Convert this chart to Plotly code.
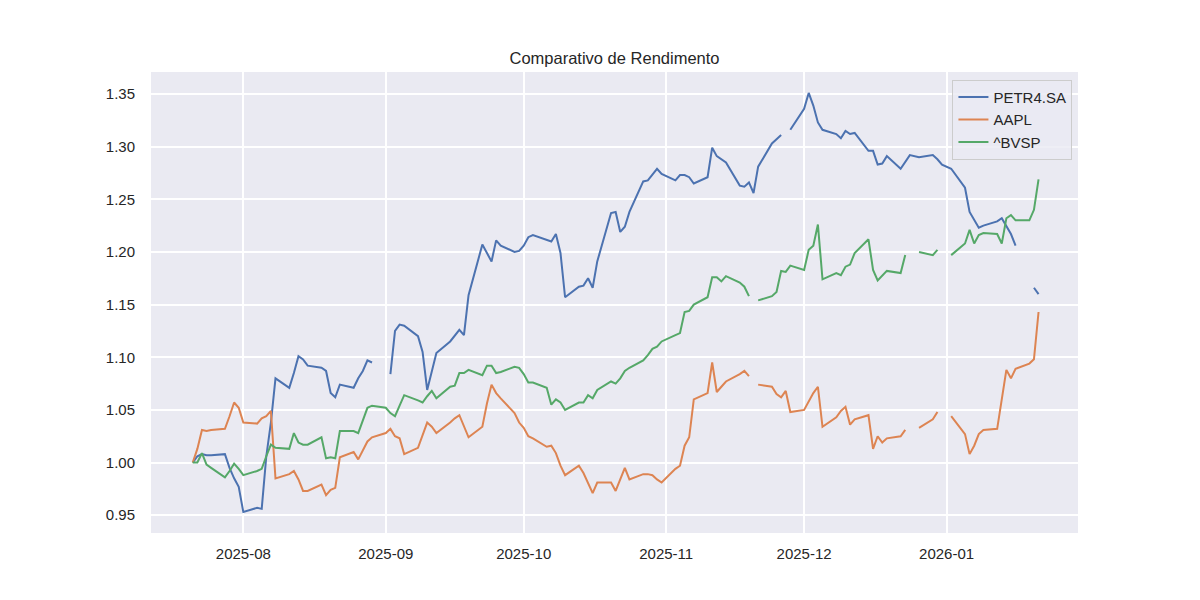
import pandas as pd
import plotly.graph_objects as go

# Trading calendar (weekdays, minus days no market traded at all)
closed_days = ['2025-12-25', '2026-01-01']
dates = pd.bdate_range('2025-07-21', '2026-01-21').drop(pd.to_datetime(closed_days))

# Normalised closes (first day = 1.0), None where that market was closed
petr4 = [1.000, 1.006, 1.008, 1.007, 1.007,
         1.008, 0.995, 0.985, 0.977, 0.953,
         0.957, 0.956, 1.006, 1.038, 1.080,
         1.071, 1.085, 1.101, 1.098, 1.092,
         1.090, 1.087, 1.066, 1.062, 1.074,
         1.071, 1.080, 1.087, 1.097, 1.095,
         None, 1.084, 1.125, 1.131, 1.130,
         1.120, 1.105, 1.069, 1.087, 1.104,
         1.115, 1.120, 1.126, 1.121, 1.159,
         1.207, 1.199, 1.191, 1.211, 1.206,
         1.200, 1.201, 1.206, 1.214, 1.216,
         1.212, 1.210, 1.217, 1.199, 1.157,
         1.167, 1.168, 1.175, 1.166, 1.191,
         1.237, 1.238, 1.219, 1.224, 1.238,
         1.267, 1.268, 1.273, 1.279, 1.274,
         1.268, 1.273, 1.273, 1.271, 1.265,
         1.271, 1.299, 1.291, 1.288, 1.285,
         1.263, 1.262, 1.266, 1.256, 1.281,
         1.303, 1.307, 1.311, None, 1.316,
         1.336, 1.351, 1.339, 1.323, 1.316,
         1.312, 1.308, 1.315, 1.312, 1.313,
         1.296, 1.296, 1.283, 1.284, 1.291,
         1.279, 1.285, 1.292, 1.290,
         1.292, 1.288, 1.283, 1.279,
         1.261, 1.238, 1.230, 1.223, 1.225,
         1.229, 1.232, 1.225, 1.217, 1.206,
         None, 1.166, 1.160]

aapl = [1.000, 1.013, 1.031, 1.030, 1.031,
        1.032, 1.044, 1.057, 1.052, 1.038,
        1.037, 1.042, 1.044, 1.049, 0.985,
        0.989, 0.992, 0.984, 0.973, 0.973,
        0.979, 0.969, 0.974, 0.976, 1.005,
        1.010, 1.003, 1.011, 1.020, 1.024,
        1.028, 1.032, 1.025, 1.023, 1.008,
        1.014, 1.026, 1.038, 1.034, 1.028,
        1.038, 1.042, 1.045, 1.035, 1.024,
        1.034, 1.056, 1.074, 1.066, 1.061,
        1.047, 1.038, 1.033, 1.025, 1.023,
        1.015, 1.016, 1.009, 0.997, 0.988,
        0.997, 0.990, 0.981, 0.971, 0.981,
        0.981, 0.973, 0.984, 0.995, 0.984,
        0.989, 0.989, 0.988, 0.984, 0.981,
        0.994, 0.997, 1.016, 1.024, 1.060,
        1.066, 1.095, 1.067, 1.072, 1.077,
        1.084, 1.087, 1.082, None, 1.074,
        1.072, 1.065, 1.062, 1.068, 1.048,
        1.050, 1.058, 1.066, 1.072, 1.034,
        1.043, 1.049, 1.053, 1.036, 1.041,
        1.045, 1.013, 1.025, 1.019, 1.023,
        1.025, 1.031, None, 1.033,
        1.041, 1.048, None, 1.044,
        1.027, 1.008, 1.016, 1.027, 1.031,
        1.032, 1.061, 1.088, 1.080, 1.089,
        1.094, 1.098, 1.143]

bvsp = [1.000, 1.000, 1.009, 0.998, 0.995,
        0.986, 0.992, 0.999, 0.994, 0.988,
        0.992, 0.994, 1.006, 1.017, 1.014,
        1.013, 1.028, 1.019, 1.017, 1.017,
        1.024, 1.004, 1.005, 1.004, 1.030,
        1.030, 1.028, 1.041, 1.052, 1.054,
        1.052, 1.047, 1.044, 1.054, 1.064,
        1.059, 1.057, 1.063, 1.068, 1.061,
        1.072, 1.073, 1.085, 1.085, 1.088,
        1.083, 1.092, 1.092, 1.085, 1.086,
        1.091, 1.090, 1.084, 1.076, 1.076,
        1.071, 1.055, 1.060, 1.057, 1.050,
        1.057, 1.057, 1.064, 1.061, 1.069,
        1.077, 1.075, 1.080, 1.087, 1.090,
        1.097, 1.102, 1.108, 1.110, 1.115,
        1.121, 1.123, 1.143, 1.144, 1.150,
        1.157, 1.176, 1.176, 1.172, 1.177,
        1.171, 1.167, 1.158, None, 1.154,
        1.158, 1.162, 1.182, 1.181, 1.187,
        1.183, 1.202, 1.206, 1.226, 1.174,
        1.180, 1.178, 1.186, 1.188, 1.199,
        1.212, 1.183, 1.173, 1.178, 1.182,
        1.180, 1.197, None, 1.200,
        1.197, 1.202, None, 1.197,
        1.208, 1.221, 1.208, 1.216, 1.218,
        1.217, 1.208, 1.232, 1.235, 1.230,
        1.230, 1.240, 1.269]

series = {'PETR4.SA': petr4, 'AAPL': aapl, '^BVSP': bvsp}
colors = {'PETR4.SA': '#4C72B0', 'AAPL': '#DD8452', '^BVSP': '#55A868'}

x_ticks = ['2025-08-01', '2025-09-01', '2025-10-01', '2025-11-01', '2025-12-01', '2026-01-01']
y_ticks = [0.95, 1.00, 1.05, 1.10, 1.15, 1.20, 1.25, 1.30, 1.35]

font = 'Liberation Sans, Arial, sans-serif'
text_color = '#262626'

fig = go.Figure()
for name, vals in series.items():
    fig.add_trace(go.Scatter(x=dates, y=vals, mode='lines', name=name,
                             line=dict(color=colors[name], width=2),
                             connectgaps=False))

# the page body adds an 8px offset, so margins are trimmed to land the axes in place
fig.update_layout(
    width=1200, height=600,
    paper_bgcolor='white', plot_bgcolor='#EAEAF2',
    margin=dict(l=143, r=130, t=64, b=75),
    font=dict(family=font, size=15, color=text_color),
    title=dict(text='Comparativo de Rendimento', x=0.5, xref='paper', xanchor='center',
               y=1 - 50 / 600, yref='container', yanchor='middle',
               font=dict(family=font, size=16.5, color=text_color)),
    legend=dict(x=0.994, y=0.983, xanchor='right', yanchor='top',
                bgcolor='rgba(234,234,242,0.8)', bordercolor='#CCCCCC', borderwidth=1,
                font=dict(family=font, size=15, color=text_color),
                tracegroupgap=0),
    showlegend=True,
)

fig.update_xaxes(
    type='date',
    range=['2025-07-11 22:00', '2026-01-29 14:00'],
    tickvals=x_ticks, tickformat='%Y-%m',
    showgrid=True, gridcolor='white', gridwidth=1.5,
    zeroline=False, showline=False, ticks='', ticklabelstandoff=10,
)
fig.update_yaxes(
    range=[0.9331, 1.3709],
    tickvals=y_ticks, tickformat='.2f',
    showgrid=True, gridcolor='white', gridwidth=1.5,
    zeroline=False, showline=False, ticks='', ticklabelstandoff=15,
)

fig.write_html('out.html')
